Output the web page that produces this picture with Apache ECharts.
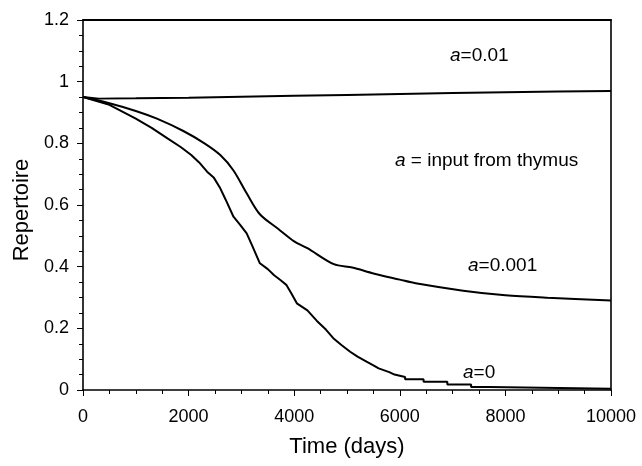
<!DOCTYPE html>
<html>
<head>
<meta charset="utf-8">
<script src="https://cdn.jsdelivr.net/npm/echarts@6/dist/echarts.min.js"></script>
<style>
html,body{margin:0;padding:0;background:#fff;}
#c{width:642px;height:466px;}
</style>
</head>
<body>
<div id="c"></div>
<script>
// ---- data ----
const xTicks = [0, 2000, 4000, 6000, 8000, 10000];
const yTicks = [0, 0.2, 0.4, 0.6, 0.8, 1, 1.2];

const tA001 = [0, 300, 1000, 2000, 3000, 4000, 5000, 6000, 7000, 8000, 9000, 10000];
const vA001 = [0.95, 0.945, 0.946, 0.948, 0.951, 0.954, 0.957, 0.960, 0.963, 0.966, 0.968, 0.970];

const tA0001 = [0, 500, 1000, 1400, 1900, 2300, 2600, 2850, 3100, 3350, 3700, 4000, 4250, 4750, 5100, 5500, 6000, 6300, 7200, 8000, 8800, 10000];
const vA0001 = [0.95, 0.93, 0.905, 0.880, 0.840, 0.800, 0.762, 0.712, 0.638, 0.570, 0.522, 0.482, 0.460, 0.408, 0.397, 0.378, 0.358, 0.346, 0.322, 0.307, 0.299, 0.290];

const tA0 = [0, 500, 1000, 1300, 1600, 1850, 2050, 2200, 2350, 2480, 2600, 2700, 2850, 2980, 3100, 3200, 3350, 3500, 3620, 3750, 3850, 3950, 4050, 4250, 4430, 4600, 4740, 4900, 5060, 5200, 5370, 5500, 5600, 5800, 5900, 6100, 6100, 6450, 6450, 6900, 6900, 7350, 7350, 7700, 7700, 10000];
const vA0 = [0.95, 0.925, 0.88, 0.85, 0.816, 0.788, 0.762, 0.738, 0.708, 0.688, 0.654, 0.618, 0.562, 0.535, 0.508, 0.470, 0.411, 0.392, 0.372, 0.355, 0.341, 0.312, 0.281, 0.258, 0.224, 0.196, 0.168, 0.145, 0.124, 0.108, 0.092, 0.080, 0.070, 0.058, 0.050, 0.042, 0.035, 0.035, 0.027, 0.027, 0.018, 0.018, 0.010, 0.010, 0.004, 0.004];

const labels = [
  { a: 'a', rest: '=0.01', x: 450, y: 57 },
  { a: 'a', rest: ' = input from thymus', x: 395, y: 162 },
  { a: 'a', rest: '=0.001', x: 468, y: 267 },
  { a: 'a', rest: '=0', x: 463, y: 374 }
];

function pairs(t, v) { return t.map((x, i) => [x, v[i]]); }

const chart = echarts.init(document.getElementById('c'), null, { renderer: 'canvas' });
const FONT = '"Liberation Sans", Arial, Helvetica, sans-serif';
const lineStyle = { color: '#000', width: 2 };

const option = {
  backgroundColor: '#fff',
  animation: false,
  grid: { left: 83, right: 31, top: 20, bottom: 76, containLabel: false },
  xAxis: [{
    type: 'value', min: xTicks[0], max: xTicks[xTicks.length - 1], interval: 2000,
    axisLine: { show: true, lineStyle: { color: '#000', width: 1.6 } },
    axisTick: { show: true, length: 6, inside: false, lineStyle: { color: '#000', width: 1 } },
    minorTick: { show: true, splitNumber: 4, length: 4, lineStyle: { color: '#000', width: 1 } },
    splitLine: { show: false },
    axisLabel: { color: '#000', fontSize: 18, fontFamily: FONT, margin: 18, formatter: v => String(v) },
    name: 'Time (days)', nameLocation: 'middle', nameGap: 46,
    nameTextStyle: { color: '#000', fontSize: 22, fontFamily: FONT }
  }, {
    type: 'value', position: 'top', min: xTicks[0], max: xTicks[xTicks.length - 1],
    axisLine: { show: true, onZero: false, lineStyle: { color: '#000', width: 2 } },
    axisTick: { show: false }, axisLabel: { show: false }, splitLine: { show: false }
  }],
  yAxis: [{
    type: 'value', min: yTicks[0], max: yTicks[yTicks.length - 1], interval: 0.2,
    axisLine: { show: true, lineStyle: { color: '#000', width: 1.6 } },
    axisTick: { show: true, length: 6, lineStyle: { color: '#000', width: 1 } },
    minorTick: { show: true, splitNumber: 4, length: 4, lineStyle: { color: '#000', width: 1 } },
    splitLine: { show: false },
    axisLabel: { color: '#000', fontSize: 18, fontFamily: FONT, margin: 14 },
    name: 'Repertoire', nameLocation: 'middle', nameGap: 50,
    nameTextStyle: { color: '#000', fontSize: 22, fontFamily: FONT, padding: [0, 10, 0, 0] }
  }, {
    type: 'value', position: 'right', min: yTicks[0], max: yTicks[yTicks.length - 1],
    axisLine: { show: true, onZero: false, lineStyle: { color: '#000', width: 1.6 } },
    axisTick: { show: false }, axisLabel: { show: false }, splitLine: { show: false }
  }],
  series: [
    { name: 'a=0.01', type: 'line', data: pairs(tA001, vA001), showSymbol: false, lineStyle, xAxisIndex: 0, yAxisIndex: 0 },
    { name: 'a=0.001', type: 'line', data: pairs(tA0001, vA0001), showSymbol: false, smooth: 0.3, lineStyle, xAxisIndex: 0, yAxisIndex: 0 },
    { name: 'a=0', type: 'line', data: pairs(tA0, vA0), showSymbol: false, lineStyle, xAxisIndex: 0, yAxisIndex: 0 }
  ],
  graphic: labels.map(l => ({
    type: 'text', left: l.x, top: l.y - 11,
    style: {
      text: '{i|' + l.a + '}{n|' + l.rest + '}',
      rich: {
        i: { fontStyle: 'italic', fontSize: 19, fontFamily: FONT, fill: '#000' },
        n: { fontSize: 19, fontFamily: FONT, fill: '#000' }
      }
    }
  }))
};
chart.setOption(option);
</script>
</body>
</html>
